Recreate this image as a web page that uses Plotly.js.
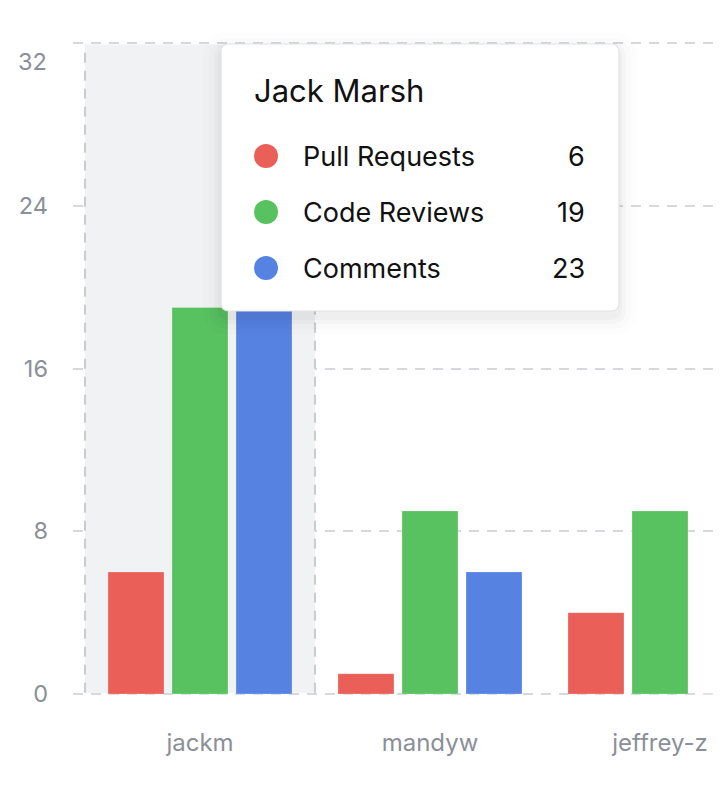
<!DOCTYPE html>
<html>
<head>
<meta charset="utf-8">
<script src="https://cdn.plot.ly/plotly-3.0.1.min.js"></script>
<style>html,body{margin:0;padding:0;background:#fff;}#chart{width:723px;height:793px;}</style>
</head>
<body>
<div id="chart"></div>
<script>
// ---- data ----
const categories = ["jackm", "mandyw", "jeffrey-z"];
const seriesNames = ["Pull Requests", "Code Reviews", "Comments"];
const pullRequests = [6, 1, 4];
const codeReviews = [19, 9, 9];
const comments = [23, 6, 0];
const yTicks = [0, 8, 16, 24, 32];
const tooltipTitle = "Jack Marsh";
const hoveredIndex = 0;

// ---- styles ----
const colors = ["#EA5F57", "#58C160", "#5682E2"];
const W = 723, H = 793;
const y0Px = 694, y32Px = 43;
const plot = {l: 73, r: 716, t: 39, b: 698};
const catPx = 230, cat0Px = 200;
const font = "Inter, 'Noto Sans', sans-serif";
const unitPx = (y0Px - y32Px) / 32;

const px2x = p => (p - cat0Px) / catPx;
const px2y = p => (y0Px - p) / unitPx;
const pxX = p => (p - plot.l) / (plot.r - plot.l);
const pxY = p => (plot.b - p) / (plot.b - plot.t);

const seriesVals = [pullRequests, codeReviews, comments];
const traces = seriesNames.map((n, i) => ({
  type: "bar", name: n, x: categories, y: seriesVals[i],
  marker: {color: colors[i], line: {width: 1, color: "rgba(255,255,255,0.25)"}},
  hoverinfo: "skip"
}));

function roundRect(x0, y0, x1, y1, r) {
  const X = pxX, Y = pxY;
  return `M${X(x0 + r)},${Y(y0)} L${X(x1 - r)},${Y(y0)} Q${X(x1)},${Y(y0)} ${X(x1)},${Y(y0 + r)} ` +
    `L${X(x1)},${Y(y1 - r)} Q${X(x1)},${Y(y1)} ${X(x1 - r)},${Y(y1)} ` +
    `L${X(x0 + r)},${Y(y1)} Q${X(x0)},${Y(y1)} ${X(x0)},${Y(y1 - r)} ` +
    `L${X(x0)},${Y(y0 + r)} Q${X(x0)},${Y(y0)} ${X(x0 + r)},${Y(y0)} Z`;
}

const shapes = [];
// hover band
shapes.push({type: "rect", xref: "x", yref: "y", layer: "between",
  x0: hoveredIndex - 0.5, x1: hoveredIndex + 0.5, y0: px2y(y0Px - 1.2), y1: px2y(y32Px + 1.5),
  fillcolor: "#F1F2F4", line: {width: 0}});
[hoveredIndex - 0.5, hoveredIndex + 0.5].forEach(v => shapes.push({
  type: "line", xref: "x", yref: "y", layer: "between",
  x0: v, x1: v, y0: px2y(y0Px - 1.2), y1: px2y(y32Px + 1.5), line: {color: "#C9CCD1", width: 2, dash: "10px,8px"}}));

// tooltip box
const tb = {x0: 221, y0: 44, x1: 619, y1: 311};
[[18, 0.008], [12, 0.012], [7, 0.018], [3, 0.025]].forEach(([g, a]) => shapes.push({
  type: "path", xref: "paper", yref: "paper", layer: "above",
  path: roundRect(tb.x0 - g, tb.y0 - g + 6, tb.x1 + g, tb.y1 + g + 6, 8 + g),
  fillcolor: `rgba(0,0,0,${a})`, line: {width: 0}}));
shapes.push({type: "path", xref: "paper", yref: "paper", layer: "above",
  path: roundRect(tb.x0, tb.y0, tb.x1, tb.y1, 8),
  fillcolor: "#FFFFFF", line: {color: "#E2E3E6", width: 1.2}});

const annotations = [];
annotations.push({xref: "paper", yref: "paper", x: pxX(252), y: pxY(90), xanchor: "left", yanchor: "middle",
  text: tooltipTitle, showarrow: false, font: {family: font, size: 31, color: "#111"}});
const rowY = [156, 212, 268];
seriesNames.forEach((n, i) => {
  shapes.push({type: "circle", xref: "paper", yref: "paper", layer: "above",
    x0: pxX(254), x1: pxX(278), y0: pxY(rowY[i] - 12), y1: pxY(rowY[i] + 12),
    fillcolor: colors[i], line: {width: 0}});
  annotations.push({xref: "paper", yref: "paper", x: pxX(301), y: pxY(rowY[i]), xanchor: "left", yanchor: "middle",
    text: n, showarrow: false, font: {family: font, size: 27, color: "#111"}});
  annotations.push({xref: "paper", yref: "paper", x: pxX(587), y: pxY(rowY[i]), xanchor: "right", yanchor: "middle",
    text: String(seriesVals[i][hoveredIndex]), showarrow: false, font: {family: font, size: 27, color: "#111"}});
});
// top tick label is pushed down in the reference
const topTick = yTicks[yTicks.length - 1];
annotations.push({xref: "paper", yref: "paper", x: pxX(49), y: pxY(62), xanchor: "right", yanchor: "middle",
  text: String(topTick), showarrow: false, font: {family: font, size: 23.5, color: "#8A8F98"}});

const layout = {
  width: W, height: H,
  margin: {l: plot.l, r: W - plot.r, t: plot.t, b: H - plot.b, pad: 0},
  paper_bgcolor: "#fff", plot_bgcolor: "#fff",
  showlegend: false,
  barmode: "group", bargap: 0.165, bargroupgap: 0.125,
  font: {family: font, color: "#8A8F98"},
  xaxis: {
    type: "category", range: [px2x(plot.l), px2x(plot.r)],
    showgrid: false, zeroline: false, showline: false, ticks: "",
    tickfont: {family: font, size: 24, color: "#8A8F98"}, ticklabelstandoff: 28
  },
  yaxis: {
    range: [px2y(plot.b), px2y(plot.t)], tickvals: yTicks,
    ticktext: yTicks.map(v => v === topTick ? "" : String(v)),
    showgrid: true, gridcolor: "#D6D8DC", gridwidth: 2, griddash: "10px,8px",
    zeroline: false, showline: false, ticks: "",
    tickfont: {family: font, size: 23.5, color: "#8A8F98"}, ticklabelstandoff: 24
  },
  shapes, annotations
};

Plotly.newPlot("chart", traces, layout, {displayModeBar: false, staticPlot: true});
</script>
</body>
</html>
